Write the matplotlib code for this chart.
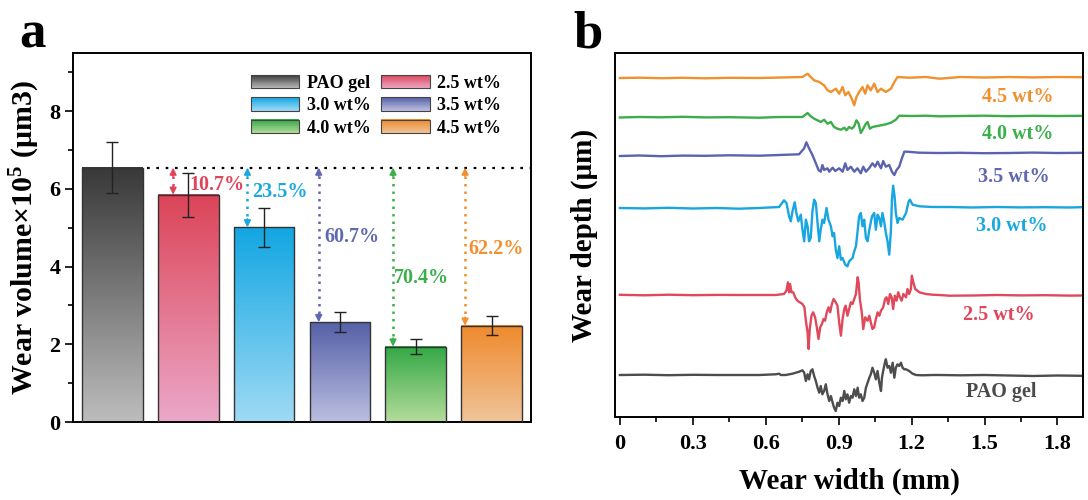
import numpy as np
import matplotlib
matplotlib.use('Agg')
import matplotlib.pyplot as plt
from matplotlib.colors import LinearSegmentedColormap, to_rgb
from matplotlib.patches import Patch, Rectangle
from matplotlib.legend_handler import HandlerBase
from matplotlib.ticker import MultipleLocator

plt.rcParams['font.family'] = ['Liberation Serif', 'DejaVu Serif']
plt.rcParams['font.weight'] = 'bold'
plt.rcParams['mathtext.fontset'] = 'custom'
plt.rcParams['mathtext.rm'] = 'Liberation Serif:bold'
plt.rcParams['mathtext.it'] = 'Liberation Serif:bold'
plt.rcParams['mathtext.bf'] = 'Liberation Serif:bold'

# ---- panel a data ----
samples = ['PAO gel', '2.5 wt%', '3.0 wt%', '3.5 wt%', '4.0 wt%', '4.5 wt%']
volume = [6.55, 5.85, 5.01, 2.57, 1.94, 2.48]
volume_err = [0.65, 0.57, 0.50, 0.26, 0.20, 0.25]
reduction = ['', '10.7%', '23.5%', '60.7%', '70.4%', '62.2%']

# ---- panel b data (x in mm, depth relative to each baseline) ----
x_pao = [0.0, 0.1, 0.2, 0.3, 0.4,
         0.490, 0.573, 0.641, 0.655, 0.662, 0.682, 0.710, 0.737, 0.751, 0.758,
         0.765, 0.772, 0.778, 0.785, 0.792, 0.799, 0.806, 0.813, 0.820, 0.826,
         0.833, 0.840, 0.847, 0.854, 0.861, 0.868, 0.875, 0.881, 0.888, 0.895,
         0.902, 0.909, 0.916, 0.923, 0.929, 0.936, 0.943, 0.950, 0.957, 0.964,
         0.971, 0.978, 0.984, 0.991, 0.998, 1.005, 1.012, 1.019, 1.026, 1.032,
         1.039, 1.046, 1.053, 1.060, 1.067, 1.074, 1.078, 1.083, 1.090, 1.094,
         1.101, 1.108, 1.115, 1.122, 1.129, 1.135, 1.142, 1.149, 1.156, 1.163,
         1.170, 1.177, 1.190, 1.204, 1.218, 1.245, 1.286, 1.314,
         1.40, 1.50, 1.60, 1.70, 1.80, 1.90]
d_pao = [0, 0.03, -0.02, 0.02, 0.0,
         0, 0, 0.07, 0.13, 0, 0, 0.13, 0.33, 0.47, 0.23,
         -0.6, 0.07, -0.43, 0.4, 0.57, -0.1, -0.6, -1.27, -1.77, -1.1,
         -1.93, -1.6, -0.93, -1.93, -2.6, -2.1, -2.77, -3.27, -3.6, -2.77,
         -3.1, -2.27, -2.6, -1.6, -2.43, -1.93, -2.77, -2.1, -2.27, -1.43,
         -2.1, -1.27, -2.27, -1.93, -2.6, -2.27, -1.27, -0.77, -0.27, 0.07,
         0.73, 0.23, -0.43, 0.4, -0.77, -1.6, -0.27, 0.4, 1.23, 1.57,
         0.73, 0.9, 0.23, 1.23, -0.27, 0.73, 1.07, 0.9, 1.23, 0.73,
         0.57, 0.57, 0.4, 0.13, 0, -0.03, 0, 0,
         -0.03, 0.0, -0.05, -0.1, -0.05, -0.08]

x_25 = [0.0, 0.1, 0.2, 0.3, 0.4,
        0.490, 0.573, 0.641, 0.675, 0.685, 0.691, 0.696, 0.700, 0.706, 0.713,
        0.721, 0.730, 0.740, 0.751, 0.759, 0.765, 0.772, 0.776, 0.781, 0.788,
        0.795, 0.803, 0.810, 0.817, 0.824, 0.831, 0.838, 0.844, 0.851, 0.858,
        0.865, 0.872, 0.879, 0.888, 0.895, 0.902, 0.909, 0.916, 0.923, 0.929,
        0.936, 0.943, 0.950, 0.957, 0.964, 0.971, 0.978, 0.982, 0.987, 0.995,
        1.001, 1.009, 1.019, 1.026, 1.032, 1.039, 1.046, 1.053, 1.060, 1.067,
        1.074, 1.083, 1.091, 1.097, 1.104, 1.111, 1.118, 1.124, 1.131, 1.138,
        1.145, 1.152, 1.159, 1.166, 1.177, 1.183, 1.190, 1.197, 1.201, 1.207,
        1.215, 1.232, 1.259, 1.286, 1.314, 1.355,
        1.45, 1.55, 1.65, 1.75, 1.85, 1.90]
d_25 = [0.02, -0.03, 0.03, -0.02, 0.01,
        0, 0, 0, 0.1, 0.43, 1.27, 0.27, 1.1, 0.27, 0.27,
        -0.23, -0.57, -0.73, -0.9, -1.23, -2.57, -3.73, -5.4, -3.4, -2.07,
        -1.73, -2.23, -3.23, -4.4, -3.23, -2.9, -2.4, -2.57, -1.73, -1.23,
        -1.73, -0.9, -0.4, -0.73, -1.07, -2.73, -4.07, -2.4, -1.4, -1.07,
        -2.07, -1.4, -0.73, -0.9, -0.4, 0.1, 1.77, 1.27, -0.4, -1.73,
        -3.4, -2.23, -2.57, -2.07, -2.73, -3.4, -3.23, -2.4, -1.73, -2.07,
        -1.57, -1.23, -0.4, -0.23, -0.9, 0.1, -0.23, -1.4, -0.07, -0.57,
        0.27, -0.23, -0.57, 0.1, -0.23, 0.6, 0.1, 0.6, 1.93, 1.27,
        0.6, 0.27, 0.1, 0.03, 0, -0.07,
        -0.05, 0.0, -0.04, -0.02, -0.06, -0.05]

x_30 = [0.0, 0.1, 0.2, 0.3, 0.4,
        0.490, 0.573, 0.655, 0.675, 0.685, 0.696, 0.703, 0.710, 0.719, 0.726,
        0.734, 0.744, 0.751, 0.758, 0.765, 0.772, 0.778, 0.785, 0.792, 0.799,
        0.806, 0.813, 0.820, 0.826, 0.833, 0.840, 0.850, 0.858, 0.868, 0.875,
        0.881, 0.888, 0.895, 0.902, 0.909, 0.916, 0.927, 0.936, 0.943, 0.957,
        0.964, 0.971, 0.977, 0.984, 0.991, 0.998, 1.005, 1.012, 1.019, 1.026,
        1.037, 1.046, 1.053, 1.060, 1.067, 1.074, 1.080, 1.087, 1.094, 1.101,
        1.108, 1.115, 1.119, 1.124, 1.130, 1.135, 1.142, 1.149, 1.163, 1.177,
        1.188, 1.193, 1.204, 1.232, 1.286, 1.355,
        1.45, 1.55, 1.65, 1.75, 1.85, 1.90]
d_30 = [0.0, -0.04, 0.02, -0.05, 0.0,
        -0.07, 0, 0.1, 0.77, 0.5, -0.83, -1.33, -0.33, 0.57, -0.5,
        -1.33, -0.67, -2.17, -3.33, -1.17, -1.83, -3.33, -3.0, -0.33, 0.83,
        0.5, -1.5, -3.33, -2.17, -1.17, -1.5, 0, -1.17, -1.83, -2.83,
        -2.5, -4.17, -5.0, -3.83, -5.17, -5.0, -5.67, -5.83, -5.33, -5.0,
        -4.33, -3.83, -2.5, -0.83, -0.5, -1.83, -1.17, -3.0, -3.33, -2.17,
        -0.83, -0.5, -2.17, -0.67, -1.0, -1.83, -0.5, -1.33, -2.5, -3.33,
        -4.67, -2.17, 0.83, 2.23, 1.17, -0.5, -1.5, -1.0, -1.17, -0.5,
        0.67, 0.83, 0.33, 0.17, 0.1, 0.1,
        0.05, 0.1, 0.06, 0.08, 0.05, 0.08]

x_35 = [0.0, 0.08, 0.17, 0.26, 0.35, 0.45,
        0.573, 0.655, 0.737, 0.758, 0.767, 0.778, 0.792, 0.806, 0.817, 0.826,
        0.833, 0.840, 0.854, 0.861, 0.875, 0.886, 0.902, 0.916, 0.927, 0.936,
        0.950, 0.964, 0.977, 0.991, 1.001, 1.012, 1.025, 1.039, 1.050, 1.060,
        1.074, 1.083, 1.094, 1.108, 1.119, 1.129, 1.138, 1.149, 1.160, 1.170,
        1.183, 1.231, 1.314,
        1.40, 1.50, 1.60, 1.70, 1.80, 1.90]
d_35 = [-0.1, -0.05, -0.12, -0.06, -0.08, -0.03,
        -0.07, 0, 0.07, 0.67, 1.27, 0.67, 0, -0.83, -1.5, -1.67,
        -1.0, -1.5, -1.33, -1.67, -1.27, -1.6, -1.33, -1.67, -0.83, -1.5,
        -1.17, -1.67, -1.33, -1.83, -1.17, -1.67, -1.33, -0.83, -1.17, -0.67,
        -1.33, -0.6, -1.17, -1.0, -1.67, -2.0, -1.5, -1.17, -0.33, 0.33,
        0.33, 0.23, 0.2,
        0.22, 0.18, 0.2, 0.24, 0.2, 0.22]

x_40 = [0.0, 0.08, 0.17, 0.26, 0.35, 0.45,
        0.573, 0.655, 0.751, 0.772, 0.785, 0.799, 0.813, 0.826, 0.840, 0.854,
        0.868, 0.881, 0.895, 0.909, 0.923, 0.932, 0.943, 0.954, 0.964, 0.973,
        0.982, 0.991, 1.001, 1.012, 1.019, 1.028, 1.039, 1.053, 1.074, 1.094,
        1.115, 1.135, 1.149, 1.204, 1.259, 1.314,
        1.40, 1.50, 1.60, 1.70, 1.80, 1.90]
d_40 = [-0.05, 0.0, -0.03, 0.02, -0.04, -0.02,
        -0.07, 0, 0, 0.4, 0.07, -0.17, -0.33, -0.5, -0.27, -0.67,
        -0.5, -1.0, -1.17, -1.27, -1.07, -1.33, -1.0, -1.17, -0.93, -0.33,
        -0.67, -1.6, -1.17, -0.67, -0.5, -1.17, -1.0, -0.93, -0.83, -0.73,
        -0.57, -0.27, 0.13, 0.1, 0.13, 0.07,
        0.1, 0.13, 0.08, 0.12, 0.1, 0.12]

x_45 = [0.0, 0.08, 0.17, 0.26, 0.35, 0.45,
        0.573, 0.751, 0.772, 0.785, 0.799, 0.820, 0.840, 0.854, 0.868, 0.888,
        0.902, 0.916, 0.927, 0.940, 0.954, 0.964, 0.973, 0.984, 0.998, 1.009,
        1.019, 1.032, 1.046, 1.060, 1.074, 1.094, 1.115, 1.129, 1.142, 1.190,
        1.259, 1.314,
        1.40, 1.50, 1.60, 1.70, 1.80, 1.90]
d_45 = [0.0, 0.03, -0.02, 0.02, -0.03, 0.02,
        0.0, 0.1, 0.43, 0.1, -0.23, -0.4, -0.73, -1.23, -1.4, -1.07,
        -1.57, -0.9, -1.73, -1.4, -2.07, -2.73, -1.9, -1.4, -0.9, -1.57,
        -0.73, -1.23, -0.57, -1.4, -1.07, -1.4, -1.07, -0.4, 0.1, 0.03,
        0.1, -0.07,
        0.1, 0.05, 0.1, 0.06, 0.1, 0.08]

baselines = [4.2, 12.2, 20.9, 26.2, 30.0, 33.9]

# ---- styles ----
grad_top = ['#383838', '#dc4458', '#12a6e2', '#5560a8', '#33a845', '#f08a2c']
grad_bot = ['#bdbdbd', '#eba8c8', '#9fdaf4', '#bcbfe0', '#b4dc9c', '#efc49a']
txt_col = ['#4a4a4a', '#e0455a', '#1aa8e0', '#6068b0', '#3ab04a', '#f0902e']
line_col = ['#4d4d4d', '#e0485c', '#18a6e0', '#5b63b0', '#3cad4a', '#f0902e']
arrow_dx = [0, -0.20, -0.22, -0.28, -0.30, -0.35]
pct_pos = [None, (1.02, 6.09), (1.84, 5.91), (2.79, 4.76), (3.71, 3.70), (4.70, 4.45)]
lab_pos = [(1.57, 2.5), (1.56, 10.2), (1.61, 19.1), (1.62, 24.0), (1.635, 28.3), (1.635, 32.0)]


class GradHandler(HandlerBase):
    def __init__(self, top, bot):
        super().__init__()
        self.top = np.array(to_rgb(top))
        self.bot = np.array(to_rgb(bot))

    def create_artists(self, legend, orig_handle, xdescent, ydescent, width, height, fontsize, trans):
        arts = []
        n = 16
        for k in range(n):
            f = (k + 0.5) / n
            c = self.bot * (1 - f) + self.top * f
            arts.append(Rectangle((-xdescent, -ydescent + k * height / n), width, height / n + 0.3,
                                  facecolor=c, edgecolor='none', transform=trans))
        arts.append(Rectangle((-xdescent, -ydescent), width, height, fill=False,
                              edgecolor='#444444', lw=0.8, transform=trans))
        return arts


fig = plt.figure(figsize=(10.88, 5), dpi=100)
ax1 = fig.add_axes([0.0671, 0.156, 0.4210, 0.738])
ax2 = fig.add_axes([0.5653, 0.166, 0.4301, 0.728])

# ---------- panel a ----------
xpos = np.arange(len(samples))
bars = ax1.bar(xpos, volume, width=0.8, facecolor='none', edgecolor='#333333', lw=1, zorder=3)
grad = np.linspace(0, 1, 256).reshape(-1, 1)
for rect, top, bot in zip(bars, grad_top, grad_bot):
    cmap = LinearSegmentedColormap.from_list('g', [bot, top])
    x0 = rect.get_x()
    ax1.imshow(grad, cmap=cmap, origin='lower', aspect='auto', zorder=2,
               extent=[x0, x0 + rect.get_width(), 0, rect.get_height()])
ax1.errorbar(xpos, volume, yerr=volume_err, fmt='none', ecolor='#222222',
             elinewidth=1, capsize=4, capthick=1, zorder=4)

ax1.plot([0.46, 5.52], [volume[0], volume[0]], ls=(0, (1.2, 3)), color='k', lw=1.6, zorder=5)
hl = 0.22
for i in range(1, len(samples)):
    c = txt_col[i]
    x = xpos[i] + arrow_dx[i]
    ax1.plot([x, x], [volume[0] - hl, volume[i] + hl], ls=(0, (1, 2)), color=c, lw=1.8, zorder=5)
    ax1.annotate('', xy=(x, volume[0]), xytext=(x, volume[0] - hl),
                 arrowprops=dict(arrowstyle='-|>', color=c, lw=1.2, mutation_scale=10,
                                 shrinkA=0, shrinkB=0), zorder=6)
    ax1.annotate('', xy=(x, volume[i]), xytext=(x, volume[i] + hl),
                 arrowprops=dict(arrowstyle='-|>', color=c, lw=1.2, mutation_scale=10,
                                 shrinkA=0, shrinkB=0), zorder=6)
    ax1.text(pct_pos[i][0], pct_pos[i][1], reduction[i], color=c, fontsize=14.5,
             fontweight='bold', ha='left', va='center', zorder=6)

ax1.set_xlim(-0.52, 5.52)
ax1.set_ylim(0, 9.5)
ax1.set_xticks([])
ax1.yaxis.set_major_locator(MultipleLocator(2))
ax1.yaxis.set_minor_locator(MultipleLocator(1))
ax1.tick_params(axis='y', which='major', direction='out', length=6, width=1.2, labelsize=16, pad=3)
ax1.tick_params(axis='y', which='minor', direction='out', length=3.5, width=1.2)
for s in ax1.spines.values():
    s.set_linewidth(1.4)
ax1.set_ylabel(r'Wear volume×10$^5$ (μm3)', fontsize=21.5, fontweight='bold', labelpad=5)

order = [0, 2, 4, 1, 3, 5]
handles = [Patch(label=samples[i]) for i in order]
hmap = {h: GradHandler(grad_top[i], grad_bot[i]) for h, i in zip(handles, order)}
ax1.legend(handles=handles, handler_map=hmap, ncol=2, loc='upper left',
           bbox_to_anchor=(0.36, 0.975), frameon=False, fontsize=13,
           handlelength=2.7, handleheight=0.75, handletextpad=0.4,
           columnspacing=0.6, labelspacing=0.3, borderpad=0.2)

# ---------- panel b ----------
xs = [x_pao, x_25, x_30, x_35, x_40, x_45]
ds = [d_pao, d_25, d_30, d_35, d_40, d_45]
for i in range(len(samples)):
    ax2.plot(xs[i], np.array(ds[i]) + baselines[i], color=line_col[i], lw=1.7)
    ax2.text(lab_pos[i][0], lab_pos[i][1], samples[i], color=txt_col[i], fontsize=14.5,
             fontweight='bold', ha='center', va='center')

ax2.set_xlim(-0.02, 1.905)
ax2.set_ylim(0, 36.4)
ax2.set_yticks([])
ax2.xaxis.set_minor_locator(MultipleLocator(0.15))
ax2.set_xticks([0, 0.3, 0.6, 0.9, 1.2, 1.5, 1.8], ['0', '0.3', '0.6', '0.9', '1.2', '1.5', '1.8'])
ax2.tick_params(axis='x', which='major', direction='out', length=6, width=1.2, labelsize=16, pad=6)
ax2.tick_params(axis='x', which='minor', direction='out', length=3.5, width=1.2)
for s in ax2.spines.values():
    s.set_linewidth(1.4)
ax2.set_xlabel('Wear width (mm)', fontsize=21, fontweight='bold', labelpad=10)
ax2.set_ylabel('Wear depth (μm)', fontsize=21, fontweight='bold', labelpad=12)

fig.text(0.018, 0.905, 'a', fontsize=38, fontweight='bold', va='baseline')
fig.text(0.527, 0.905, 'b', fontsize=38, fontweight='bold', va='baseline')

fig.savefig('out.png', dpi=100)
